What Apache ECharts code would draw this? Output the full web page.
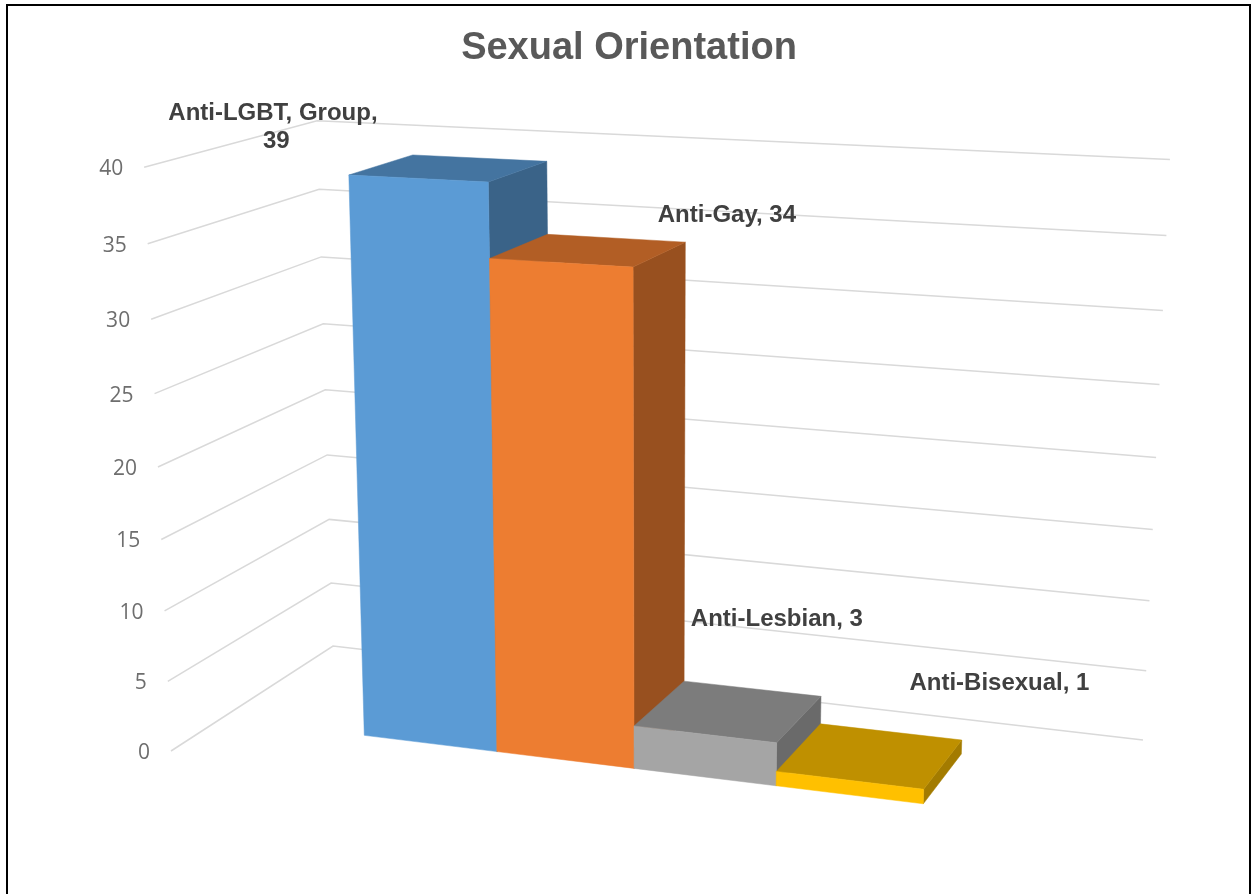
<!DOCTYPE html>
<html>
<head>
<meta charset="utf-8">
<style>html,body{margin:0;padding:0;background:#fff}#chart{width:1251px;height:894px}</style>
<script src="https://cdn.jsdelivr.net/npm/echarts@6/dist/echarts.min.js"></script>
</head>
<body>
<div id="chart"></div>
<script>
// ---- data ----
const chartTitle = 'Sexual Orientation';
const categories = ['Anti-LGBT, Group', 'Anti-Gay', 'Anti-Lesbian', 'Anti-Bisexual'];
const values = [39, 34, 3, 1];
const yTicks = [0, 5, 10, 15, 20, 25, 30, 35, 40];
const yMax = 40;

// ---- style / layout ----
const barColors = ['#5b9bd5', '#ed7d31', '#a5a5a5', '#ffc000'];
const labelShift = [[-173, -41], [138, -35], [48, -92], [129, -72]];

// Camera calibration: model point [x (bar widths), y (value), z (bar depths)] -> picture pixel
const calibration = [
  [0,39,0,349,175],[1,39,0,489,182],[0,39,1,413,155],[1,39,1,546,161],
  [0,0,0,364,735],[1,0,0,497,751],
  [1,34,0,490,258],[2,34,0,633,267],[1,34,1,547,234],[2,34,1,685,243],[2,0,0,634,768],
  [2,3,0,634,726],[3,3,0,776,743],[2,3,1,685,682],[3,3,1,821,698],[3,0,0,776,786],
  [3,1,0,776,772],[4,1,0,924,790],[4,1,1,962,742],[3,1,1,820,725],[4,0,0,923,804],[4,0,1,962,748]
];
// Floor corners of the chart walls in the picture
const floorCorners = { frontLeft: [171, 751], backLeft: [333, 646], backRight: [1143, 740] };

function solve(A, b) {
  const n = b.length;
  const M = A.map((r, i) => r.concat([b[i]]));
  for (let c = 0; c < n; c++) {
    let p = c;
    for (let r = c + 1; r < n; r++) if (Math.abs(M[r][c]) > Math.abs(M[p][c])) p = r;
    const t = M[c]; M[c] = M[p]; M[p] = t;
    for (let r = 0; r < n; r++) {
      if (r === c) continue;
      const f = M[r][c] / M[c][c];
      for (let k = c; k <= n; k++) M[r][k] -= f * M[c][k];
    }
  }
  return M.map((r, i) => r[n] / r[i]);
}
const P = (function () {
  const rows = [], rhs = [];
  calibration.forEach(function (c) {
    const X = c[0], Y = c[1] / yMax, Z = c[2], u = c[3] / 1000, v = c[4] / 1000;
    rows.push([X, Y, Z, 1, 0, 0, 0, 0, -u * X, -u * Y, -u * Z]); rhs.push(u);
    rows.push([0, 0, 0, 0, X, Y, Z, 1, -v * X, -v * Y, -v * Z]); rhs.push(v);
  });
  const n = 11;
  const AtA = [], Atb = [];
  for (let i = 0; i < n; i++) {
    AtA.push(new Array(n).fill(0)); Atb.push(0);
    rows.forEach(function (r, k) {
      for (let j = 0; j < n; j++) AtA[i][j] += r[i] * r[j];
      Atb[i] += r[i] * rhs[k];
    });
  }
  return solve(AtA, Atb);
})();
function project(X, y, Z) {
  const Y = y / yMax;
  const w = P[8] * X + P[9] * Y + P[10] * Z + 1;
  return [1000 * (P[0] * X + P[1] * Y + P[2] * Z + P[3]) / w,
          1000 * (P[4] * X + P[5] * Y + P[6] * Z + P[7]) / w];
}
function unprojectFloor(px) {
  const u = px[0] / 1000, v = px[1] / 1000;
  const r = solve([[P[0] - u * P[8], P[2] - u * P[10]], [P[4] - v * P[8], P[6] - v * P[10]]],
                  [u - P[3], v - P[7]]);
  return { X: r[0], Z: r[1] };
}
const fl = unprojectFloor(floorCorners.frontLeft);
const bl = unprojectFloor(floorCorners.backLeft);
const br = unprojectFloor(floorCorners.backRight);

function shade(hex, f) {
  const n = parseInt(hex.slice(1), 16);
  return 'rgb(' + [(n >> 16) & 255, (n >> 8) & 255, n & 255].map(c => Math.round(c * f)).join(',') + ')';
}
// value read through the chart's own y axis
function axisValue(api, rect, v) {
  const p = api.coord([0, v]);
  return yMax * (rect.y + rect.height - p[1]) / rect.height;
}
function poly(points, fill) {
  return { type: 'polygon', shape: { points: points }, style: { fill: fill, stroke: fill, lineWidth: 0.5 } };
}

function renderGrid(params, api) {
  const rect = params.coordSys;
  const y = axisValue(api, rect, api.value(1));
  const a = project(fl.X, y, fl.Z), b = project(bl.X, y, bl.Z), c = project(br.X, y, br.Z);
  return { type: 'group', children: [
    { type: 'polyline', shape: { points: [a, b, c] }, style: { stroke: '#d9d9d9', lineWidth: 1.5, fill: 'none' } },
    { type: 'text', style: { x: a[0] - 21, y: a[1] + 2, text: String(api.value(1)), align: 'right', verticalAlign: 'middle',
        font: '21px "Open Sans"', fill: '#6e6e6e' } }
  ] };
}
function renderBar(params, api) {
  const rect = params.coordSys;
  const i = params.dataIndex;
  const band = api.size([1, 0])[0];
  const cx = (api.coord([api.value(0), 0])[0] - rect.x) / band;
  const x0 = cx - 0.5, x1 = cx + 0.5;
  const y = axisValue(api, rect, api.value(1));
  const col = barColors[i];
  const f = (x, yy, z) => project(x, yy, z);
  return { type: 'group', children: [
    poly([f(x1, 0, 0), f(x1, y, 0), f(x1, y, 1), f(x1, 0, 1)], shade(col, 0.64)),
    poly([f(x0, y, 0), f(x1, y, 0), f(x1, y, 1), f(x0, y, 1)], shade(col, 0.75)),
    poly([f(x0, 0, 0), f(x1, 0, 0), f(x1, y, 0), f(x0, y, 0)], col)
  ] };
}
function renderLabel(params, api) {
  const rect = params.coordSys;
  const i = params.dataIndex;
  const band = api.size([1, 0])[0];
  const cx = (api.coord([api.value(0), 0])[0] - rect.x) / band;
  const y = axisValue(api, rect, api.value(1));
  const c = project(cx, y, 0.5);
  return { type: 'text', style: {
    x: c[0] + labelShift[i][0], y: c[1] + labelShift[i][1],
    text: categories[i] + ', ' + api.value(1), width: 235, overflow: 'break',
    align: 'center', verticalAlign: 'middle', lineHeight: 28,
    font: 'bold 24px "Liberation Sans"', fill: '#404040' } };
}

const barRows = categories.map((c, i) => [c, values[i]]);
const chart = echarts.init(document.getElementById('chart'), null, { renderer: 'canvas' });
chart.setOption({
  animation: false,
  backgroundColor: '#ffffff',
  title: { text: chartTitle, left: 624, top: 25, textAlign: 'center',
    textStyle: { fontFamily: 'Liberation Sans', fontWeight: 'bold', fontSize: 38, color: '#595959' } },
  grid: { left: 150, right: 100, top: 150, bottom: 140 },
  xAxis: { type: 'category', data: categories, show: false, boundaryGap: true },
  yAxis: { type: 'value', min: 0, max: yMax, interval: 5, show: false },
  graphic: [{ type: 'polyline', shape: { points: [[7, 894], [7, 5], [1250, 5], [1250, 894]] },
    style: { stroke: '#000', lineWidth: 2, fill: 'none' }, silent: true }],
  series: [
    { type: 'custom', name: 'gridlines', renderItem: renderGrid, encode: { x: 0, y: 1 }, silent: true,
      data: yTicks.map(t => [categories[0], t]) },
    { type: 'custom', name: 'bars', renderItem: renderBar, encode: { x: 0, y: 1 }, silent: true, data: barRows },
    { type: 'custom', name: 'labels', renderItem: renderLabel, encode: { x: 0, y: 1 }, silent: true, data: barRows }
  ]
});
</script>
</body>
</html>
